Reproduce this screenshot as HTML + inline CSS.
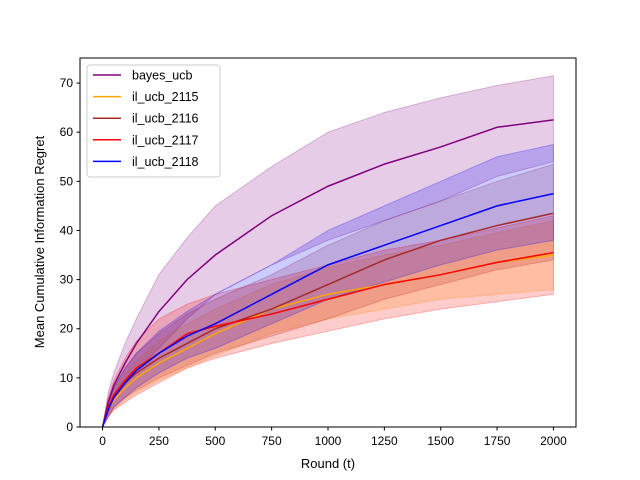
<!DOCTYPE html>
<html><head><meta charset="utf-8"><style>
body{margin:0;background:#fff;}
svg{display:block;font-family:"Liberation Sans","DejaVu Sans",sans-serif;}
</style></head><body>
<svg id="chart" width="640" height="480">
<rect width="640" height="480" fill="#fff"/>
<g id="bands"></g><g id="lines"></g>
<rect x="80" y="58" width="496" height="369" fill="none" stroke="#000" stroke-width="1"/>
<g id="axes" font-size="12" fill="#000"></g>
<text x="328" y="468" text-anchor="middle" font-size="13">Round (t)</text>
<text transform="translate(44,242) rotate(-90)" text-anchor="middle" font-size="13">Mean Cumulative Information Regret</text>
<g id="legend"></g>
</svg>
<script>
const rounds=[0,25,50,100,150,250,375,500,750,1000,1250,1500,1750,2000];
const bayesMean=[0,5,8.5,13,17,23.5,30,35,43,49,53.5,57,61,62.5];
const bayesLow=[0,3,5.5,8.5,11.5,16,22,27,33,38,42,46,51,54];
const bayesHigh=[0,7,11,17,22,31,38.5,45,53,60,64,67,69.5,71.5];
const m2115=[0,3.5,5.5,8,10,13,16,19,24,27,29,31,33.5,35];
const l2115=[0,2,3.5,5.5,7,9.5,12,14.5,19,22,24,26,27,28];
const h2115=[0,5,7.5,11,13.5,17.5,21,24,29,32.5,35,37,39.5,42];
const m2116=[0,4,6,9,11,14,17,20,24,29,34,38,41,43.5];
const l2116=[0,2.5,4,6,7.5,10,12.5,15,18.5,22,26,29,32,34];
const h2116=[0,5.5,8,12,15,19,23,26,31,37,42,46,50,53.5];
const m2117=[0,4,6.5,9.5,12,15,19,20.5,23,26,29,31,33.5,35.5];
const l2117=[0,2,3.5,5,6.5,9,12,14,17,19.5,22,24,25.5,27];
const h2117=[0,6,9.5,14,17.5,22,25,27,30,33,36,38,40.5,43];
const m2118=[0,3.5,6,9,11.5,15,18.5,21,27,33,37,41,45,47.5];
const l2118=[0,2,4,6,8,11,14,16,21,26,29.5,33,36,38];
const h2118=[0,5,8,12,15,19.5,23.5,27,33,40,45,50,55,57.5];
const xTicks=[0,250,500,750,1000,1250,1500,1750,2000];
const yTicks=[0,10,20,30,40,50,60,70];
const names=["bayes_ucb","il_ucb_2115","il_ucb_2116","il_ucb_2117","il_ucb_2118"];
const colors=["#800080","#ffa500","#a52a2a","#ff0000","#0000ff"];
const means=[bayesMean,m2115,m2116,m2117,m2118];
const lows=[bayesLow,l2115,l2116,l2117,l2118];
const highs=[bayesHigh,h2115,h2116,h2117,h2118];
const X=v=>80+(v+100)*496/2200;
const Y=v=>427-v*369/75.1;
const NS="http://www.w3.org/2000/svg";
function mk(t,a,p){const e=document.createElementNS(NS,t);for(const k in a)e.setAttribute(k,a[k]);p.appendChild(e);return e;}
const bands=document.getElementById('bands'),lines=document.getElementById('lines'),axes=document.getElementById('axes'),leg=document.getElementById('legend');
means.forEach((m,i)=>{
  let d=rounds.map((r,j)=>(j?'L':'M')+X(r)+','+Y(highs[i][j])).join('');
  for(let j=rounds.length-1;j>=0;j--)d+='L'+X(rounds[j])+','+Y(lows[i][j]);
  const b=mk('path',{d:d+'Z',fill:colors[i],'fill-opacity':0.2,stroke:colors[i],'stroke-opacity':0.25},bands);
  
  
});
means.forEach((m,i)=>{
  const l=mk('path',{d:rounds.map((r,j)=>(j?'L':'M')+X(r)+','+Y(m[j])).join(''),fill:'none',stroke:colors[i],'stroke-width':1.5},lines);
  
  
});
xTicks.forEach(t=>{
  const g=mk('g',{},axes);
  
  
  mk('line',{x1:X(t),x2:X(t),y1:427,y2:430.5,stroke:'#000'},g);
  mk('text',{x:X(t),y:445,'text-anchor':'middle'},g).textContent=t;
});
yTicks.forEach(t=>{
  const g=mk('g',{},axes);
  
  
  mk('line',{x1:76.5,x2:80,y1:Y(t),y2:Y(t),stroke:'#000'},g);
  mk('text',{x:73,y:Y(t)+4,'text-anchor':'end'},g).textContent=t;
});
const box=mk('rect',{x:87,y:65,width:133,height:112,rx:3,fill:'#fff','fill-opacity':0.8,stroke:'#ccc'},leg);


names.forEach((n,i)=>{
  const g=mk('g',{},leg);
  
  
  const y=75+i*21.6;
  mk('line',{x1:93,x2:121,y1:y,y2:y,stroke:colors[i],'stroke-width':1.5},g);
  mk('text',{x:132,y:y+4.5,'font-size':12.5},g).textContent=n;
});
</script>
</body></html>
